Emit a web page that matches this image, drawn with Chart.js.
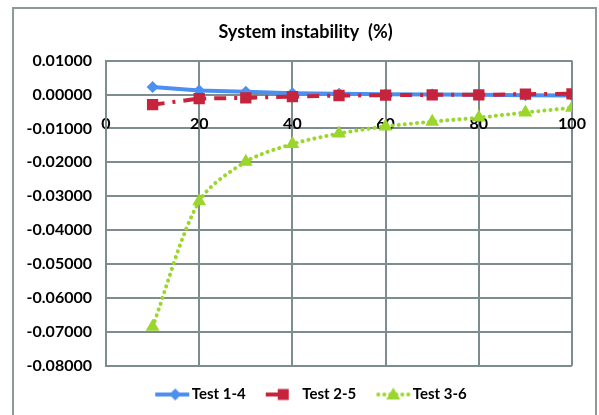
<!DOCTYPE html>
<html><head><meta charset="utf-8">
<script src="https://cdn.jsdelivr.net/npm/chart.js@4.4.0/dist/chart.umd.min.js"></script>
<style>html,body{margin:0;padding:0;background:#fff}#wrap{width:599px;height:415px}</style>
</head><body><div id="wrap"><canvas id="c" width="599" height="415"></canvas></div>
<script>
const xValues = [10, 20, 30, 40, 50, 60, 70, 80, 90, 100];
const test14 = [0.0022, 0.0012, 0.0008, 0.0004, 0.0002, 0.0001, 0.0000, -0.0001, -0.0002, -0.0003];
const test25 = [-0.0030, -0.0012, -0.0010, -0.0006, -0.0003, -0.0002, -0.0001, -0.0001, 0.0001, 0.0002];
const test36 = [-0.0685, -0.0315, -0.0198, -0.0146, -0.0115, -0.0094, -0.0080, -0.0068, -0.0053, -0.0039];
const seriesNames = ['Test 1-4', 'Test 2-5', 'Test 3-6'];
const titleText = 'System instability  (%)';
const xMin = 0, xMax = 100, xStep = 20;
const yMin = -0.08, yMax = 0.01, yStep = 0.01;

const BLUE = '#4b8ff0', RED = '#c6243c', GREEN = '#9ad62b', GRID = '#7d8c8c';
const FONT = 'Lato, "DejaVu Sans", sans-serif';

function pts(vals) { return xValues.map((x, i) => ({x: x, y: vals[i]})); }

function sample(kind) {
  const c = document.createElement('canvas');
  c.width = 60; c.height = 16;
  const g = c.getContext('2d');
  const cy = 8;
  g.lineWidth = 4;
  if (kind === 0) {
    g.strokeStyle = BLUE; g.beginPath(); g.moveTo(21, cy); g.lineTo(55, cy); g.stroke();
    g.fillStyle = BLUE; g.beginPath(); g.moveTo(41, cy - 6); g.lineTo(47, cy); g.lineTo(41, cy + 6); g.lineTo(35, cy); g.closePath(); g.fill();
  } else if (kind === 1) {
    g.strokeStyle = RED; g.beginPath(); g.moveTo(21, cy); g.lineTo(40, cy); g.stroke();
    g.fillStyle = RED; g.fillRect(33, cy - 5.5, 11, 11);
  } else {
    g.fillStyle = GREEN;
    for (let x = 23; x <= 54; x += 6) { g.beginPath(); g.arc(x, cy, 2, 0, Math.PI * 2); g.fill(); }
    g.beginPath(); g.moveTo(38, cy - 7); g.lineTo(45, cy + 5); g.lineTo(31, cy + 5); g.closePath(); g.fill();
  }
  return c;
}

const frame = {
  id: 'frame',
  beforeDraw(chart) {
    const g = chart.ctx;
    g.save();
    g.fillStyle = '#fff'; g.fillRect(0, 0, chart.width, chart.height);
    g.strokeStyle = '#8c9999'; g.lineWidth = 2;
    g.strokeRect(13, 8, 583, 420);
    g.restore();
  }
};

new Chart(document.getElementById('c'), {
  type: 'line',
  data: {
    datasets: [
      {label: seriesNames[0], data: pts(test14), borderColor: BLUE, backgroundColor: BLUE, borderWidth: 4,
       pointStyle: 'rectRot', pointRadius: 6, pointBorderWidth: 0, tension: 0, order: 3},
      {label: seriesNames[1], data: pts(test25), borderColor: RED, backgroundColor: RED, borderWidth: 4,
       borderDash: [12, 8, 3, 8], pointStyle: 'rect', pointRadius: 8, pointBorderWidth: 0, tension: 0, order: 2},
      {label: seriesNames[2], data: pts(test36), borderColor: GREEN, backgroundColor: GREEN, borderWidth: 4,
       borderDash: [0.1, 6], borderCapStyle: 'round', pointStyle: 'triangle', pointRadius: 8, pointBorderWidth: 0,
       tension: 0.3, order: 1}
    ]
  },
  options: {
    responsive: false,
    animation: false,
    devicePixelRatio: 1,
    layout: {padding: {left: 39, right: 27, top: 15, bottom: 3}},
    plugins: {
      title: {display: true, text: titleText, color: '#000', font: {family: FONT, size: 18, weight: 'bold'},
              padding: {top: 6, bottom: 18}},
      legend: {
        position: 'bottom',
        title: {display: true, text: '', font: {size: 1}, padding: {top: 11, bottom: 0}},
        labels: {
          usePointStyle: true, pointStyleWidth: 40, padding: 9, color: '#000',
          font: {family: FONT, size: 15, weight: 'bold'},
          generateLabels(chart) {
            return chart.data.datasets.map((d, i) => ({
              text: d.label, pointStyle: sample(i), datasetIndex: i, hidden: false,
              fillStyle: d.borderColor, strokeStyle: d.borderColor, lineWidth: 0, fontColor: '#000'
            }));
          }
        }
      },
      tooltip: {enabled: false}
    },
    scales: {
      x: {
        type: 'linear', min: xMin, max: xMax, position: {y: 0},
        afterFit(s) { s.paddingLeft = 0; s.paddingRight = 0; },
        ticks: {stepSize: xStep, color: '#000', font: {family: FONT, size: 16, weight: 'bold'}, padding: 20, maxRotation: 0},
        grid: {color: GRID, lineWidth: 2, drawTicks: false},
        border: {color: GRID, width: 2}
      },
      y: {
        min: yMin, max: yMax,
        afterFit(s) { s.width = 67; s._computeLabelArea = () => undefined; },
        ticks: {stepSize: yStep, color: '#000', font: {family: FONT, size: 16, weight: 'bold'}, padding: 14,
                callback: v => Number(v).toFixed(5)},
        grid: {color: GRID, lineWidth: 2, drawTicks: false},
        border: {color: GRID, width: 2}
      }
    }
  },
  plugins: [frame]
});
</script></body></html>
